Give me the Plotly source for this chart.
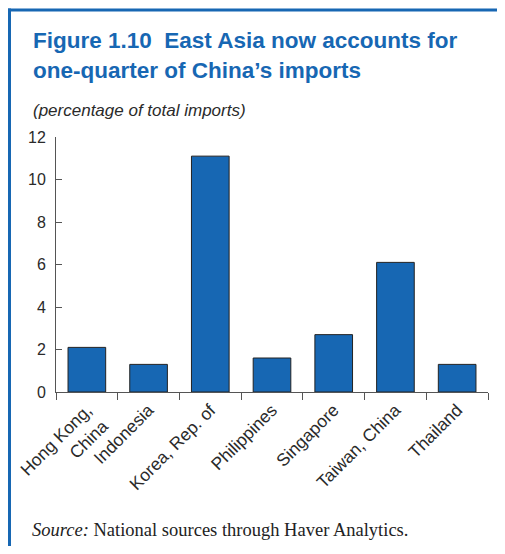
import plotly.graph_objects as go

categories = ["Hong Kong,<br>China", "Indonesia", "Korea, Rep. of", "Philippines",
              "Singapore", "Taiwan, China", "Thailand"]
values = [2.1, 1.3, 11.1, 1.6, 2.7, 6.1, 1.3]
y_ticks = [0, 2, 4, 6, 8, 10, 12]

BLUE = "#1767b3"
OFF = 8  # default page body margin
W, H = 505 - 2 * OFF, 554 - 2 * OFF
L, T = 56 - OFF, 137 - OFF
R = W - (488 - OFF)
B = H - (392 - OFF)
PW, PH = W - L - R, H - T - B


def px(x):
    return (x - OFF - L) / PW


def py(y):
    return (H - B - (y - OFF)) / PH


fig = go.Figure(go.Bar(
    x=categories, y=values,
    marker=dict(color=BLUE, line=dict(color="#222222", width=1)),
    width=0.61,
))

fig.update_layout(
    width=W, height=H,
    margin=dict(l=L, r=R, t=T, b=B),
    paper_bgcolor="white", plot_bgcolor="white",
    showlegend=False,
    font=dict(family="Liberation Sans, Arial, sans-serif", color="#333333"),
    xaxis=dict(
        type="category", range=[-0.5, 6.5], automargin=False,
        showline=True, linecolor="#555555", linewidth=1,
        ticks="outside", tickson="boundaries", ticklen=7, tickcolor="#555555",
        tickangle=-45, tickfont=dict(size=17.5, color="#2a2a2a"),
        showgrid=False, zeroline=False,
    ),
    yaxis=dict(
        range=[0, 12], tickvals=y_ticks, automargin=False,
        showline=True, linecolor="#555555", linewidth=1,
        ticks="inside", ticklen=6, tickcolor="#555555",
        ticklabelstandoff=6,
        tickfont=dict(size=16, color="#2a2a2a"),
        showgrid=False, zeroline=False,
    ),
    shapes=[
        dict(type="line", xref="paper", yref="paper",
             x0=px(8), x1=px(506), y0=py(10), y1=py(10),
             line=dict(color=BLUE, width=3)),
        dict(type="line", xref="paper", yref="paper",
             x0=px(9.5), x1=px(9.5), y0=py(8.5), y1=py(556),
             line=dict(color=BLUE, width=3)),
    ],
    annotations=[
        dict(xref="paper", yref="paper", x=px(31), y=py(40),
             xanchor="left", yanchor="middle", showarrow=False,
             text="<b>Figure 1.10\u00a0 East Asia now accounts for</b>",
             font=dict(size=22.5, color=BLUE, family="Liberation Sans, Arial, sans-serif")),
        dict(xref="paper", yref="paper", x=px(31), y=py(70),
             xanchor="left", yanchor="middle", showarrow=False,
             text="<b>one-quarter of China’s imports</b>",
             font=dict(size=22.5, color=BLUE, family="Liberation Sans, Arial, sans-serif")),
        dict(xref="paper", yref="paper", x=px(31), y=py(111),
             xanchor="left", yanchor="middle", showarrow=False,
             text="<i>(percentage of total imports)</i>",
             font=dict(size=17, color="#2a2a2a", family="Liberation Sans, Arial, sans-serif")),
        dict(xref="paper", yref="paper", x=px(30), y=py(530),
             xanchor="left", yanchor="middle", showarrow=False,
             text="<i>Source:</i> National sources through Haver Analytics.",
             font=dict(size=18.5, color="#222222", family="Liberation Serif, Times New Roman, serif")),
    ],
)

fig.write_html("out.html")
